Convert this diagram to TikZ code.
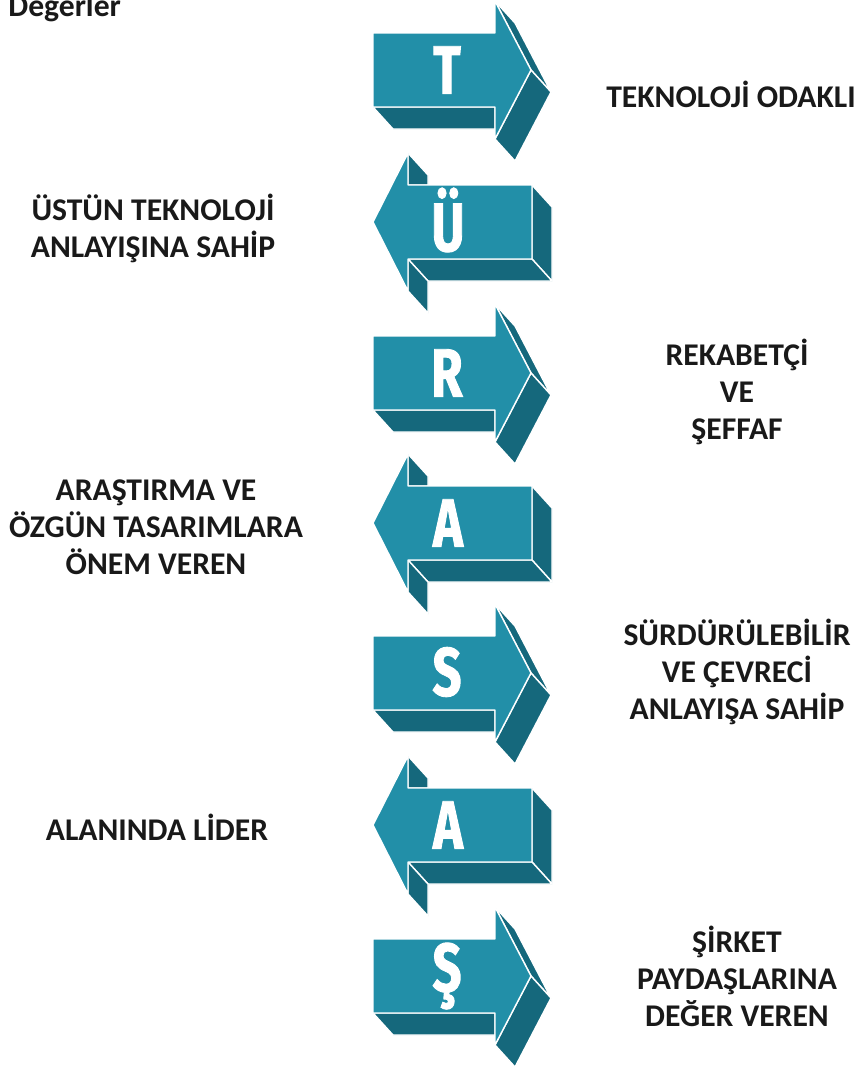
\documentclass[tikz,border=0pt]{standalone}
\usepackage{fontspec}
\setmainfont{Carlito}
\newfontfamily\letterfont[FakeStretch=0.74, BoldFeatures={FakeBold=1.3}]{Fira Sans}
\definecolor{tealfront}{HTML}{228FA8}
\definecolor{tealside}{HTML}{15687C}
\begin{document}
\begin{tikzpicture}[
    x=0.02cm, y=-0.02cm,
    face/.style={fill=tealfront, draw=white, line width=0.8pt, line join=round},
    side/.style={fill=tealside, draw=white, line width=0.8pt, line join=round},
    letter/.style={font=\letterfont\bfseries\fontsize{39}{39}\selectfont, text=white, inner sep=0pt},
    lbl/.style={font=\bfseries\fontsize{18}{21}\selectfont, align=center, text=black!90},
    rarr/.pic={
      \filldraw[side] (373,37) -- (495,37) -- (495,59) -- (393,59) -- cycle;
      \filldraw[side] (495,-69) -- (531,0) -- (551,22) -- (515,-47) -- cycle;
      \filldraw[side] (531,0) -- (551,22) -- (515,91) -- (495,69) -- cycle;
      \filldraw[face] (373,-37) -- (495,-37) -- (495,-69) -- (531,0) -- (495,69)
                      -- (495,37) -- (373,37) -- cycle;
    },
    larr/.pic={
      \filldraw[side] (532,-37) -- (552,-15) -- (552,59) -- (532,37) -- cycle;
      \filldraw[side] (408,37) -- (532,37) -- (552,59) -- (428,59) -- cycle;
      \filldraw[side] (408,-69) -- (428,-47) -- (428,-37) -- (408,-37) -- cycle;
      \filldraw[side] (408,37) -- (428,59) -- (428,91) -- (408,69) -- cycle;
      \filldraw[face] (532,-37) -- (408,-37) -- (408,-69) -- (373,0) -- (408,69)
                      -- (408,37) -- (532,37) -- cycle;
    },
  ]
  \useasboundingbox (0,0) rectangle (859,1066);

  \node[lbl, anchor=base west, inner sep=0pt] (degerler) at (8,16) {Değerler};

  % === arrows ===
  \pic at (0,70) {rarr};
  \node[letter] (lt) at (447,70) {T};
  \pic at (0,222) {larr};
  \node[letter] (lu) at (448,220) {Ü};
  \pic at (0,373) {rarr};
  \node[letter] (lr) at (447,373) {R};
  \pic at (0,523) {larr};
  \node[letter] (la1) at (448,523) {A};
  \pic at (0,673) {rarr};
  \node[letter] (ls) at (447,672) {S};
  \pic at (0,825) {larr};
  \node[letter] (la2) at (448,825) {A};
  \pic at (0,976) {rarr};
  \node[letter] (lsh) at (447,976) {Ş};

  % === labels right ===
  \node[lbl] (odakli) at (731,94) {TEKNOLOJİ ODAKLI};
  \node[lbl] (rekabet) at (737,392) {REKABETÇİ\\VE\\ŞEFFAF};
  \node[lbl] (surdur) at (737,672) {SÜRDÜRÜLEBİLİR\\VE ÇEVRECİ\\ANLAYIŞA SAHİP};
  \node[lbl] (sirket) at (737,976) {ŞİRKET\\PAYDAŞLARINA\\DEĞER VEREN};

  % === labels left ===
  \node[lbl] (ustun) at (153,228) {ÜSTÜN TEKNOLOJİ\\ANLAYIŞINA SAHİP};
  \node[lbl] (arastirma) at (156,527) {ARAŞTIRMA VE\\ÖZGÜN TASARIMLARA\\ÖNEM VEREN};
  \node[lbl] (lider) at (157,827) {ALANINDA LİDER};

\end{tikzpicture}
\end{document}
